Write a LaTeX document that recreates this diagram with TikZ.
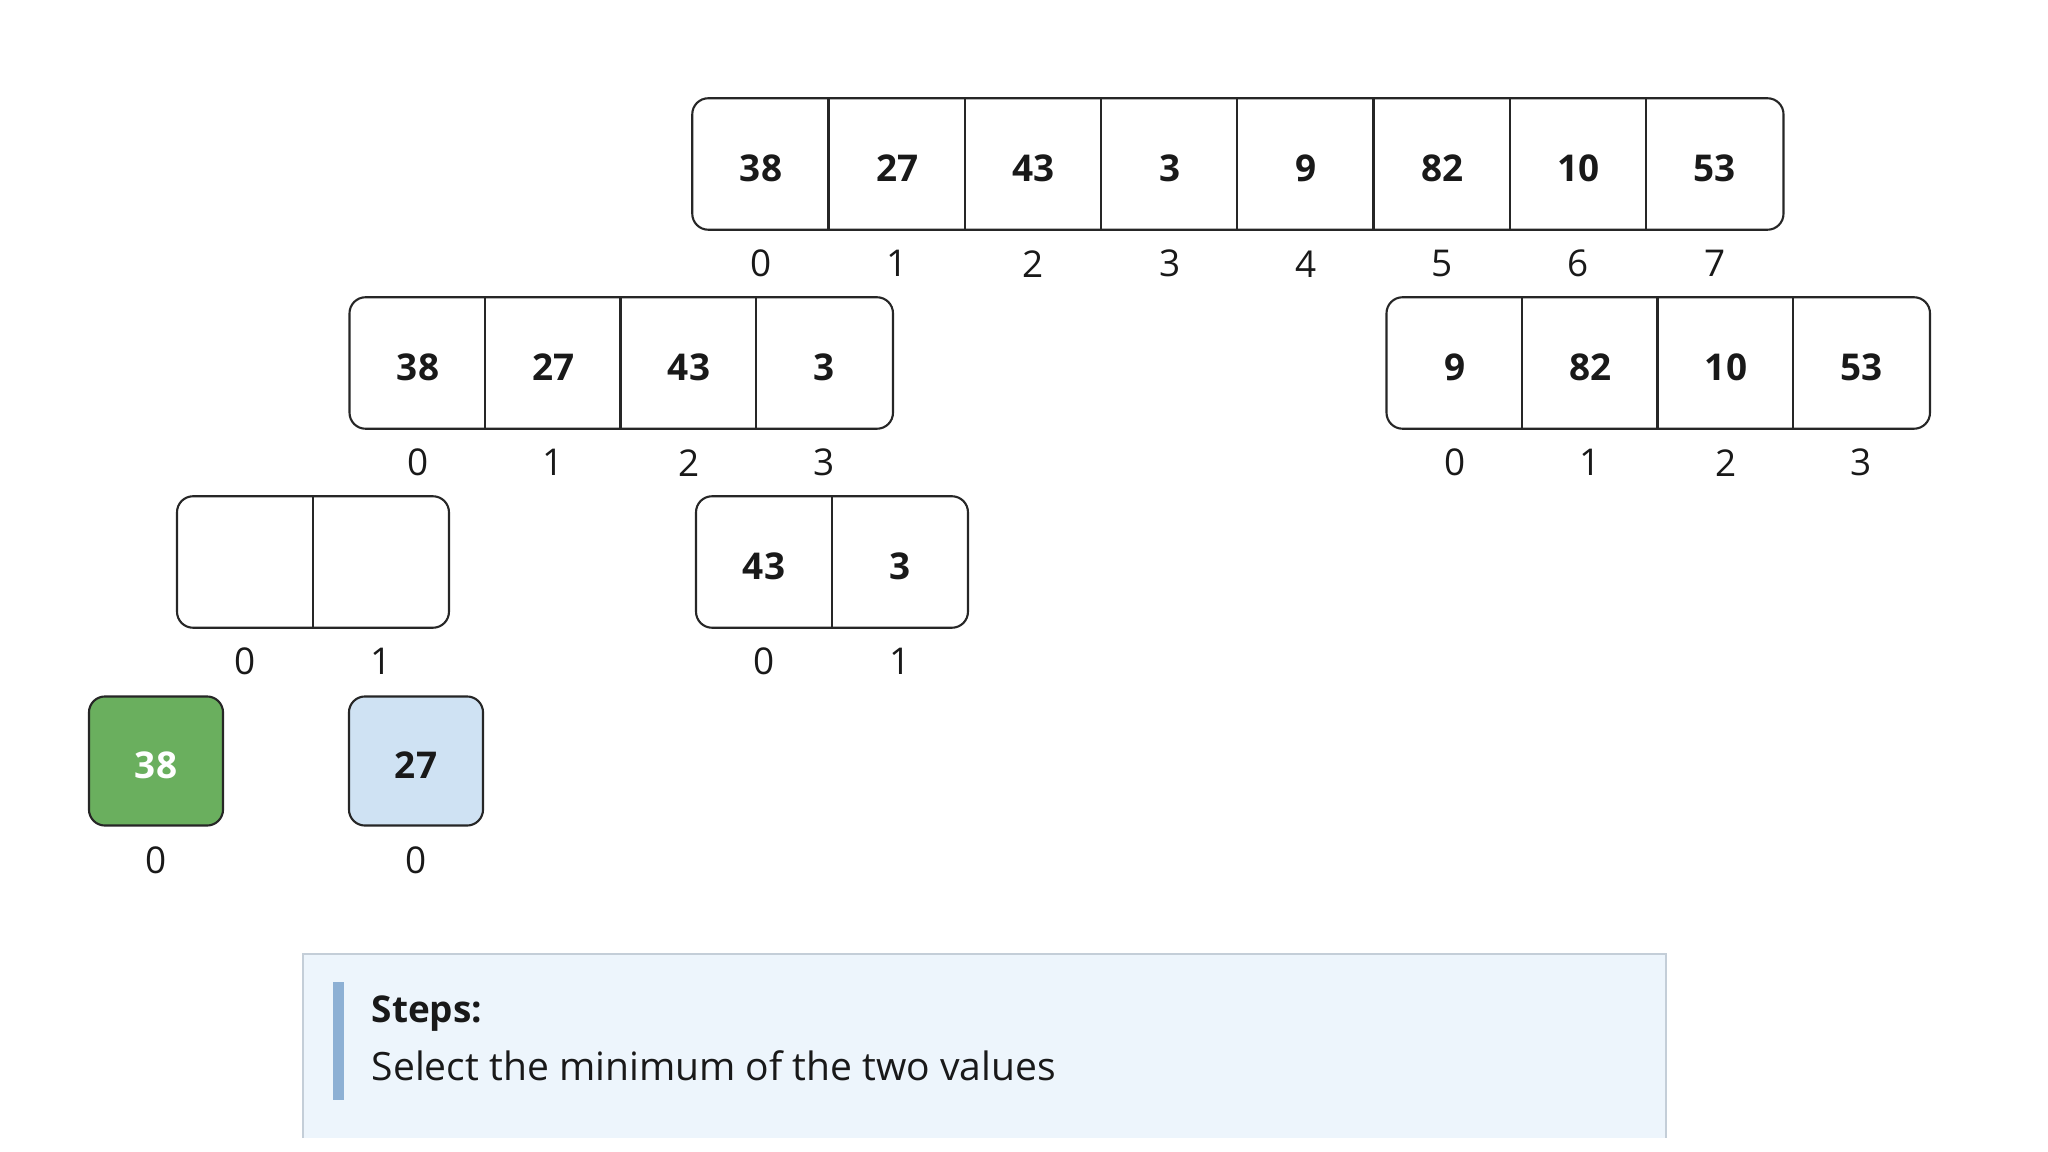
\documentclass[tikz,border=0pt]{standalone}
\usepackage{fontspec}
\setmainfont{Open Sans}
\usetikzlibrary{positioning, fit}

\definecolor{pickgreen}{RGB}{106,175,94}
\definecolor{pickblue}{RGB}{207,226,243}
\definecolor{notefill}{RGB}{237,245,252}
\definecolor{noteline}{RGB}{196,206,216}
\definecolor{notebar}{RGB}{141,176,212}

\begin{document}
\begin{tikzpicture}[x=0.01cm, y=-0.01cm,
    cell/.style={minimum width=1.36cm, minimum height=1.3cm, inner sep=0pt,
      text height=0.34cm, text depth=0pt,
      text=black!90, font=\fontsize{10.5}{12}\selectfont\bfseries},
    arr/.style={draw=black!85, line width=0.6pt, rounded corners=0.16cm, inner sep=0pt},
    idx/.style={inner sep=0pt, text=black!90, font=\fontsize{10.5}{12}\selectfont},
    sep/.style={draw=black!85, line width=0.6pt}]
  \useasboundingbox (0,0) rectangle (2048,1152);

  % whole array
  \foreach \v [count=\i from 0] in {38,27,43,3,9,82,10,53}
    \node[cell] (top\i) at ({761+136.25*\i},164) {\v};
  \node[arr, fit=(top0)(top7)] (top) {};
  \foreach \i in {1,...,7}
    \draw[sep] (top\i.north west) -- (top\i.south west);
  \foreach \i in {0,...,7}
    \node[idx] (topi\i) at ([yshift=-0.34cm]top\i.south) {\i};

  % left half
  \foreach \v [count=\i from 0] in {38,27,43,3}
    \node[cell, minimum width=1.355cm] (lh\i) at ({418+135.5*\i},363) {\v};
  \node[arr, fit=(lh0)(lh3)] (lh) {};
  \foreach \i in {1,...,3}
    \draw[sep] (lh\i.north west) -- (lh\i.south west);
  \foreach \i in {0,...,3}
    \node[idx] (lhi\i) at ([yshift=-0.34cm]lh\i.south) {\i};

  % right half
  \foreach \v [count=\i from 0] in {9,82,10,53}
    \node[cell, minimum width=1.355cm] (rh\i) at ({1455+135.5*\i},363) {\v};
  \node[arr, fit=(rh0)(rh3)] (rh) {};
  \foreach \i in {1,...,3}
    \draw[sep] (rh\i.north west) -- (rh\i.south west);
  \foreach \i in {0,...,3}
    \node[idx] (rhi\i) at ([yshift=-0.34cm]rh\i.south) {\i};

  % left quarter (being merged)
  \node[cell, minimum width=1.345cm] (lq0) at (245,562) {};
  \node[cell, minimum width=1.345cm] (lq1) [right=0pt of lq0] {};
  \node[arr, fit=(lq0)(lq1)] (lq) {};
  \draw[sep] (lq1.north west) -- (lq1.south west);
  \node[idx] (lqi0) at ([yshift=-0.34cm]lq0.south) {0};
  \node[idx] (lqi1) at ([yshift=-0.34cm]lq1.south) {1};

  % right quarter
  \node[cell, minimum width=1.345cm] (rq0) at (764,562) {43};
  \node[cell, minimum width=1.345cm] (rq1) [right=0pt of rq0] {3};
  \node[arr, fit=(rq0)(rq1)] (rq) {};
  \draw[sep] (rq1.north west) -- (rq1.south west);
  \node[idx] (rqi0) at ([yshift=-0.34cm]rq0.south) {0};
  \node[idx] (rqi1) at ([yshift=-0.34cm]rq1.south) {1};

  % single values
  \node[cell, arr, minimum width=1.34cm, minimum height=1.29cm, fill=pickgreen, text=white] (pickl) at (156,761) {38};
  \node[cell, arr, minimum width=1.34cm, minimum height=1.29cm, fill=pickblue] (pickr) at (416,761) {27};
  \node[idx] (pickli) at ([yshift=-0.34cm]pickl.south) {0};
  \node[idx] (pickri) at ([yshift=-0.34cm]pickr.south) {0};

  % steps note
  \fill[notefill] (303,954) rectangle (1666,1138);
  \draw[noteline, line width=0.8pt] (303,1138) -- (303,954) -- (1666,954) -- (1666,1138);
  \fill[notebar] (333,982) rectangle (344,1100);
  \node[idx, anchor=base west, font=\fontsize{10.5}{12}\selectfont\bfseries] (stepshead) at (371,1022) {Steps:};
  \node[idx, anchor=base west, font=\fontsize{11.1}{13}\selectfont] (stepstext) at (371,1080) {Select the minimum of the two values};
\end{tikzpicture}
\end{document}
